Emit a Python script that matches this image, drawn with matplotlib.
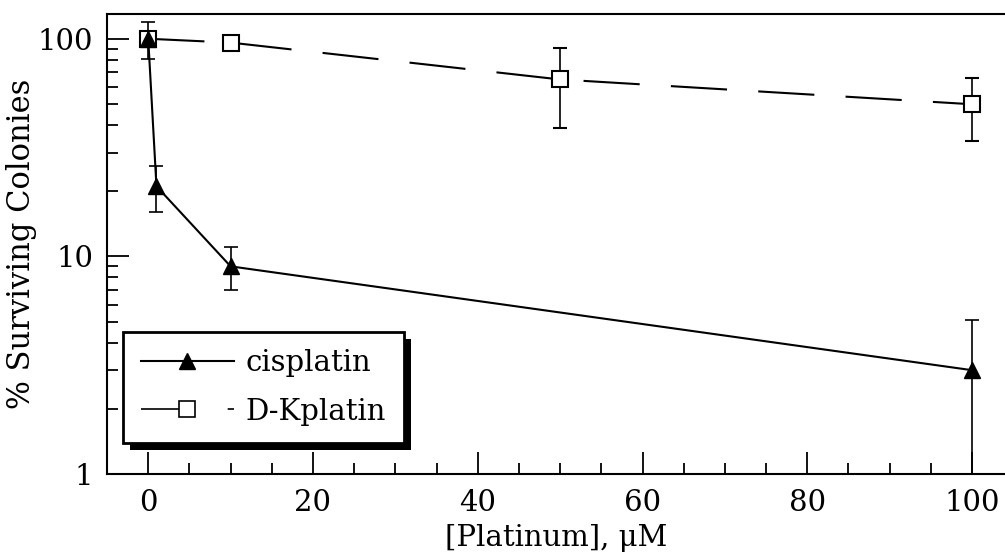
import matplotlib
matplotlib.use("Agg")
import matplotlib.pyplot as plt
import matplotlib.patheffects as pe
from matplotlib.lines import Line2D
from matplotlib.ticker import FixedLocator, NullFormatter

plt.rcParams['font.family'] = ['DejaVu Serif']

# cisplatin: surviving colonies vs platinum concentration
cis_x = [0, 1, 10, 100]
cis_y = [100, 21, 9, 3]
cis_err = [19, 5, 2, 2.1]

# D-Kplatin
dk_x = [0, 10, 50, 100]
dk_y = [100, 96, 65, 50]
dk_err = [5, 5, 26, 16]

dk_dash = (0, (27, 15))

fig = plt.figure(figsize=(10.05, 5.58), dpi=100)
ax = fig.add_axes([0.1065, 0.1505, 0.8935, 0.8245])

ax.errorbar(dk_x, dk_y, yerr=dk_err, color='black', lw=1.5,
            linestyle=dk_dash, marker='s', ms=11, mfc='white',
            mec='black', mew=1.5, ecolor='black', elinewidth=1.2,
            capsize=5, capthick=1.2, zorder=3)
ax.errorbar(cis_x, cis_y, yerr=cis_err, color='black', lw=1.5,
            marker='^', ms=12, mfc='black', mec='black',
            ecolor='black', elinewidth=1.2, capsize=5, capthick=1.2,
            zorder=4)

ax.set_yscale('log')
ax.set_xlim(-5, 104)
ax.set_ylim(1, 130)
ax.set_yticks([1, 10, 100])
ax.set_yticklabels(['1', '10', '100'])
ax.yaxis.set_minor_formatter(NullFormatter())
ax.set_xticks([0, 20, 40, 60, 80, 100])
ax.xaxis.set_minor_locator(FixedLocator([v for v in range(5, 100, 5) if v % 20]))

ax.tick_params(axis='both', which='major', direction='in', length=16,
               width=1.3, labelsize=21, top=False, right=False)
ax.tick_params(axis='both', which='minor', direction='in', length=8,
               width=1.3, top=False, right=False)
ax.tick_params(axis='y', pad=10)
ax.tick_params(axis='x', pad=11)
for s in ['left', 'bottom', 'top']:
    ax.spines[s].set_linewidth(1.5)
ax.spines['right'].set_visible(False)

ax.set_xlabel('[Platinum], μM', fontsize=21)
ax.set_ylabel('% Surviving Colonies', fontsize=22)
ax.xaxis.set_label_coords(0.5, -0.108)
ax.yaxis.set_label_coords(-0.078, 0.5)

# legend built from plain lines so the error bars stay out of it
handles = [
    Line2D([], [], color='black', lw=1.5, marker='^', ms=11, mfc='black'),
    Line2D([], [], color='black', lw=1.2, marker='s', ms=11, mfc='white',
           mew=1.2, linestyle=(0, (28, 24, 4.5, 60))),
]
leg = ax.legend(handles, ['cisplatin', 'D-Kplatin'], loc='lower left',
                bbox_to_anchor=(0.018, 0.067), borderaxespad=0,
                fancybox=False, edgecolor='black', framealpha=1,
                fontsize=21, handlelength=3.2, handletextpad=0.4,
                borderpad=0.6, labelspacing=0.7)
frame = leg.get_frame()
frame.set_linewidth(2)
frame.set_path_effects([pe.SimplePatchShadow(offset=(5, -5), shadow_rgbFace='black', alpha=1),
                        pe.Normal()])

fig.savefig('out.png', dpi=100)
